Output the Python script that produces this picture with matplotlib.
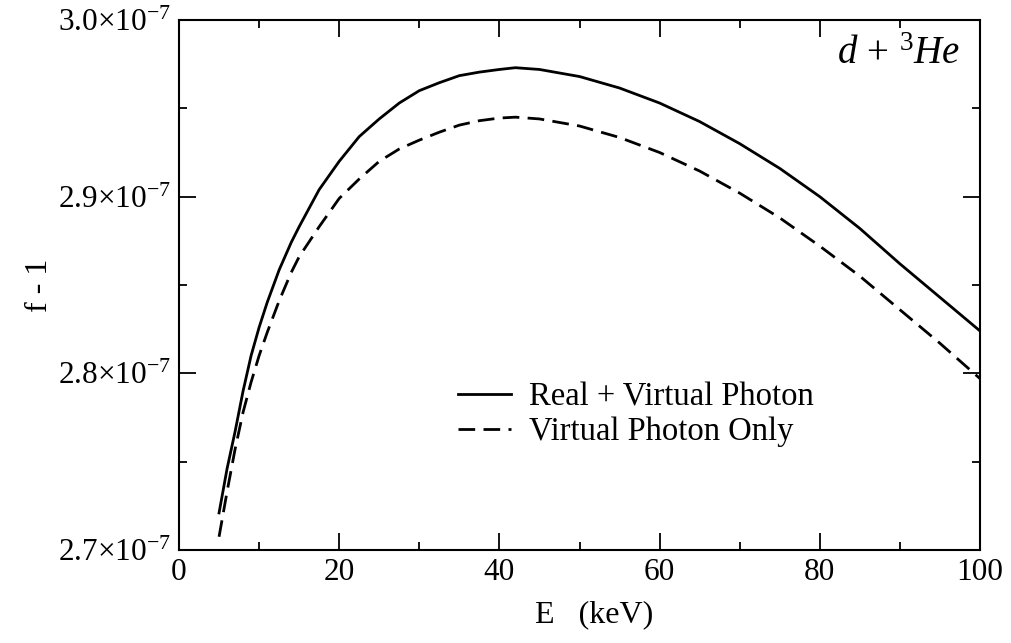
import matplotlib
matplotlib.use("Agg")
import matplotlib.pyplot as plt
from matplotlib.ticker import MultipleLocator, FixedLocator, FixedFormatter

plt.rcParams['font.family'] = ['Liberation Serif', 'DejaVu Serif']
plt.rcParams['mathtext.fontset'] = 'custom'
plt.rcParams['mathtext.rm'] = 'Liberation Serif'
plt.rcParams['mathtext.it'] = 'Liberation Serif:italic'
plt.rcParams['mathtext.bf'] = 'Liberation Serif:bold'

# Energy (keV)
energy = [5, 6, 7, 8, 9, 10, 11, 12.5, 14, 15, 17.5, 20, 22.5, 25, 27.5, 30,
          32.5, 35, 37.5, 40, 42, 45, 47.5, 50, 55, 60, 65, 70, 75, 80, 85, 90,
          95, 100]
# f - 1, in units of 1e-9
real_virtual = [272.1, 274.6, 276.7, 279.0, 281.0, 282.6, 284.0, 285.85, 287.4,
                288.3, 290.4, 292.0, 293.4, 294.4, 295.3, 296.0, 296.45, 296.85,
                297.05, 297.2, 297.3, 297.2, 297.0, 296.8, 296.15, 295.3, 294.25,
                293.0, 291.6, 290.0, 288.2, 286.2, 284.3, 282.4]
virtual_only = [270.75, 273.3, 275.7, 277.8, 279.5, 281.0, 282.3, 284.1, 285.7,
                286.6, 288.3, 289.9, 291.0, 292.0, 292.7, 293.2, 293.65, 294.05,
                294.3, 294.45, 294.5, 294.4, 294.2, 294.0, 293.35, 292.5, 291.45,
                290.2, 288.8, 287.2, 285.5, 283.6, 281.7, 279.7]

ytick_vals = [2.7e-7, 2.8e-7, 2.9e-7, 3.0e-7]
ytick_labels = [r"2.7$\times$10$^{-7}$", r"2.8$\times$10$^{-7}$",
                r"2.9$\times$10$^{-7}$", r"3.0$\times$10$^{-7}$"]

scale = 1e-9
fig = plt.figure(figsize=(10.11, 6.43), dpi=100)
ax = fig.add_axes([179/1011, 1 - 550/643, (980-179)/1011, (550-20)/643])

ax.plot(energy, [v*scale for v in real_virtual], color='black', lw=2.0,
        label='Real + Virtual Photon', solid_joinstyle='round')
ax.plot(energy, [v*scale for v in virtual_only], color='black', lw=2.0,
        dashes=(6, 3), label='Virtual Photon Only')

ax.set_xlim(0, 100)
ax.set_ylim(2.7e-7, 3.0e-7)
ax.xaxis.set_major_locator(MultipleLocator(20))
ax.xaxis.set_minor_locator(MultipleLocator(10))
ax.yaxis.set_major_locator(FixedLocator(ytick_vals))
ax.yaxis.set_major_formatter(FixedFormatter(ytick_labels))
ax.yaxis.set_minor_locator(FixedLocator([2.75e-7, 2.85e-7, 2.95e-7]))

ax.tick_params(which='both', direction='in', top=True, right=True,
               labelsize=22.5, width=1.3)
ax.tick_params(which='major', length=12, pad=6)
ax.tick_params(which='minor', length=6)
for s in ax.spines.values():
    s.set_linewidth(1.5)

ax.set_xlabel('E   (keV)', fontsize=23)
ax.set_ylabel('f - 1', fontsize=23)
ax.xaxis.set_label_coords((594 - 179) / 801, -0.094)
ax.yaxis.set_label_coords((40 - 179) / 801, 0.5)
ax.yaxis.label.set_va('center')

ax.text(0.975, 0.935, r"$d\,+\,^{3}He$", transform=ax.transAxes,
        ha='right', va='center', fontsize=28)

leg = ax.legend(loc='upper left', bbox_to_anchor=(0.32, 0.3606), frameon=False,
                fontsize=23.5, handlelength=1.63, handletextpad=0.55,
                labelspacing=0.13, borderpad=0.2)

fig.savefig('out.png', dpi=100)
